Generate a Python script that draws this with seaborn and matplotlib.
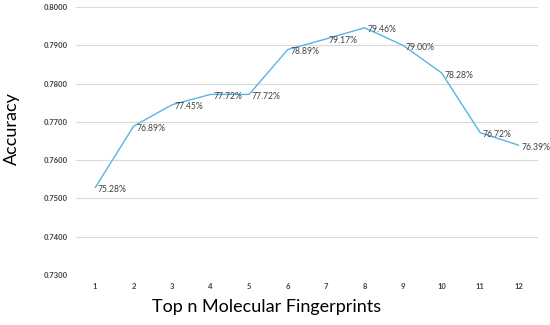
import matplotlib
matplotlib.use("Agg")
import matplotlib.pyplot as plt
import numpy as np
import pandas as pd
import seaborn as sns

# data
top_n = [1, 2, 3, 4, 5, 6, 7, 8, 9, 10, 11, 12]
accuracy = [0.7528, 0.7689, 0.7745, 0.7772, 0.7772, 0.7889,
            0.7917, 0.7946, 0.7900, 0.7828, 0.7672, 0.7639]
y_ticks = [0.73, 0.74, 0.75, 0.76, 0.77, 0.78, 0.79, 0.80]

sns.set_theme(style="white")
plt.rcParams["font.family"] = ["Lato", "DejaVu Sans"]

df = pd.DataFrame({"pos": np.arange(len(top_n)), "acc": accuracy})

fig = plt.figure(figsize=(5.5, 3.25), dpi=100)
ax = fig.add_axes([0.138, 0.154, 0.84, 0.824])

sns.lineplot(data=df, x="pos", y="acc", ax=ax, color="#5AB4E6", linewidth=1.0)

# data labels to the right of each point
for p, a in zip(df["pos"], df["acc"]):
    ax.annotate(f"{a * 100:.2f}%", (p, a), xytext=(2, -1.5),
                textcoords="offset points", ha="left", va="center",
                fontsize=6.2, color="#404040")

ax.set_xlim(-0.5, len(top_n) - 0.5)
ax.set_ylim(0.73, 0.80)
ax.set_xticks(df["pos"])
ax.set_xticklabels([str(n) for n in top_n])
ax.set_yticks(y_ticks)
ax.set_yticklabels([f"{t:.4f}" for t in y_ticks])
ax.tick_params(axis="both", length=0, labelsize=5.5, labelcolor="#404040")
for lbl in ax.get_xticklabels() + ax.get_yticklabels():
    lbl.set_fontweight("bold")
ax.tick_params(axis="x", pad=6)
ax.tick_params(axis="y", pad=6)

ax.grid(axis="y", color="#d9d9d9", linewidth=0.8)
ax.grid(axis="x", visible=False)
sns.despine(ax=ax, left=True, bottom=True)

ax.set_xlabel("Top n Molecular Fingerprints", fontsize=13, color="#000000")
ax.set_ylabel("Accuracy", fontsize=13, color="#000000")
ax.xaxis.set_label_coords(0.413, -0.09)
ax.yaxis.set_label_coords(-0.121, 0.545)

fig.savefig("out.png", dpi=100)
